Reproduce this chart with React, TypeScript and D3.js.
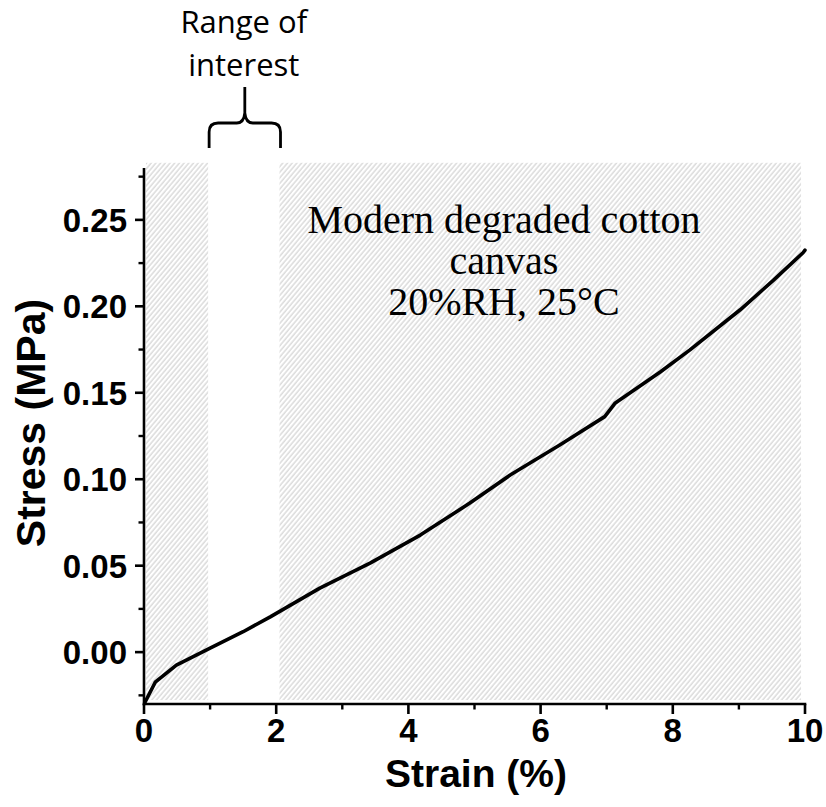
import React from "react";
import * as d3 from "d3";

// Stress–strain curve
const strain = [0.015, 0.17, 0.49, 1.0, 1.5, 1.91, 2.66, 3.42, 4.18, 4.93, 5.54, 6.29, 6.97, 7.13, 7.81, 8.26, 9.02, 9.52, 9.97, 10.0];
const stress = [-0.029, -0.0174, -0.0075, 0.0023, 0.0118, 0.0204, 0.037, 0.0515, 0.0677, 0.0862, 0.1024, 0.1198, 0.1362, 0.1441, 0.162, 0.1748, 0.198, 0.215, 0.231, 0.2325];

const xMajorTicks = [0, 2, 4, 6, 8, 10];
const xMinorTicks = [1, 3, 5, 7, 9];
const yMajorTicks = [0, 0.05, 0.1, 0.15, 0.2, 0.25];
const yMinorTicks = [-0.025, 0.025, 0.075, 0.125, 0.175, 0.225, 0.275];

const shadedStarts = [0.03, 2.05];
const shadedEnds = [0.97, 9.94];
const shadedYRange = [-0.0277, 0.283];
const rangeOfInterest = [0.97, 2.05];

const annotationLines = ["Modern degraded cotton", "canvas", "20%RH, 25°C"];
const rangeLabelLines = ["Range of", "interest"];

const W = 826;
const H = 807;

export default function App() {
  const x = d3.scaleLinear().domain([0, 10]).range([144, 805]);
  const y = d3.scaleLinear().domain([-0.03, 0.28]).range([704, 168]);

  const pts: [number, number][] = strain.map((s, i) => [s, stress[i]]);
  const line = d3
    .line<[number, number]>()
    .x((d) => x(d[0]))
    .y((d) => y(d[1]));

  const bx0 = x(rangeOfInterest[0]) + 1;
  const bx1 = x(rangeOfInterest[1]) + 1;
  const bm = (bx0 + bx1) / 2;
  const bTop = 123;
  const bBottom = 148;
  const bPeak = 87;
  const bracket = `M${bx0},${bBottom} L${bx0},${bTop + 9} Q${bx0},${bTop} ${bx0 + 9},${bTop} L${bm - 8},${bTop} Q${bm - 1},${bTop} ${bm},${bTop - 10} L${bm},${bPeak} M${bm},${bTop - 10} Q${bm + 1},${bTop} ${bm + 8},${bTop} L${bx1 - 9},${bTop} Q${bx1},${bTop} ${bx1},${bTop + 9} L${bx1},${bBottom}`;

  const axisY = y(-0.03);
  const axisX = x(0);

  return (
    <svg
      width={W}
      height={H}
      style={{ position: "absolute", left: 0, top: 0, background: "#fff" }}
    >
      <defs>
        <pattern
          id="hatch"
          patternUnits="userSpaceOnUse"
          width={3.6}
          height={10}
          patternTransform="rotate(40)"
        >
          <line x1={1} y1={0} x2={1} y2={10} stroke="#d2d2d2" strokeWidth={1.2} />
        </pattern>
      </defs>

      {shadedStarts.map((s, i) => (
        <rect
          key={i}
          x={x(s)}
          y={y(shadedYRange[1])}
          width={x(shadedEnds[i]) - x(s)}
          height={y(shadedYRange[0]) - y(shadedYRange[1])}
          fill="url(#hatch)"
        />
      ))}

      {/* curve */}
      <path d={line(pts) || ""} fill="none" stroke="#000" strokeWidth={3.6} strokeLinejoin="round" strokeLinecap="round" />

      {/* axes */}
      <line x1={axisX} y1={y(0.28)} x2={axisX} y2={axisY + 1.3} stroke="#000" strokeWidth={2.6} />
      <line x1={axisX - 1.3} y1={axisY} x2={x(10) + 1.3} y2={axisY} stroke="#000" strokeWidth={2.6} />

      {xMajorTicks.map((t) => (
        <g key={"xm" + t}>
          <line x1={x(t)} y1={axisY} x2={x(t)} y2={axisY + 10} stroke="#000" strokeWidth={2.6} />
          <text
            x={x(t)}
            y={742}
            textAnchor="middle"
            fontFamily="Liberation Sans, Arial, sans-serif"
            fontWeight="bold"
            fontSize={33}
          >
            {t}
          </text>
        </g>
      ))}
      {xMinorTicks.map((t) => (
        <line key={"xn" + t} x1={x(t)} y1={axisY} x2={x(t)} y2={axisY + 5.5} stroke="#000" strokeWidth={2.4} />
      ))}

      {yMajorTicks.map((t) => (
        <g key={"ym" + t}>
          <line x1={axisX} y1={y(t)} x2={axisX - 9} y2={y(t)} stroke="#000" strokeWidth={2.6} />
          <text
            x={127}
            y={y(t)}
            dy="0.36em"
            textAnchor="end"
            fontFamily="Liberation Sans, Arial, sans-serif"
            fontWeight="bold"
            fontSize={33}
          >
            {t.toFixed(2)}
          </text>
        </g>
      ))}
      {yMinorTicks.map((t) => (
        <line key={"yn" + t} x1={axisX} y1={y(t)} x2={axisX - 5.5} y2={y(t)} stroke="#000" strokeWidth={2.4} />
      ))}

      {/* axis titles */}
      <text
        x={476}
        y={787}
        textAnchor="middle"
        fontFamily="Liberation Sans, Arial, sans-serif"
        fontWeight="bold"
        fontSize={39}
      >
        Strain (%)
      </text>
      <text
        transform={`translate(45,${423}) rotate(-90)`}
        textAnchor="middle"
        fontFamily="Liberation Sans, Arial, sans-serif"
        fontWeight="bold"
        fontSize={41}
      >
        Stress (MPa)
      </text>

      {/* annotation */}
      {annotationLines.map((t, i) => (
        <text
          key={t}
          x={504}
          y={233 + i * 41}
          textAnchor="middle"
          fontFamily="Liberation Serif, Times New Roman, serif"
          fontSize={40}
        >
          {t}
        </text>
      ))}

      {/* range of interest */}
      {rangeLabelLines.map((t, i) => (
        <text
          key={t}
          x={bm - 1}
          y={33 + i * 43}
          textAnchor="middle"
          fontFamily="Open Sans, sans-serif"
          fontSize={31}
        >
          {t}
        </text>
      ))}
      <path d={bracket} fill="none" stroke="#000" strokeWidth={2.8} />
    </svg>
  );
}
